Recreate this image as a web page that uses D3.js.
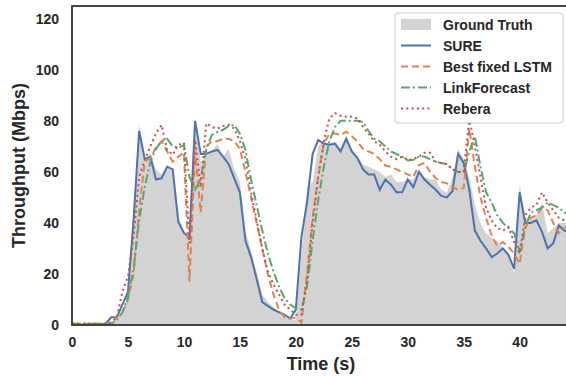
<!DOCTYPE html>
<html>
<head>
<style>
body { margin: 0; background: #fff; }
text { font-family: "Liberation Sans", Arial, sans-serif; font-weight: bold; fill: #262626; }
</style>
</head>
<body>
<svg id="chart" width="566" height="376"></svg>
<script src="https://d3js.org/d3.v7.min.js"></script>
<script>
const times = [
  0,0.5,1,1.5,2,2.5,3,3.5,4,4.5, 5,5.5,6,6.5,7,7.5,8,8.5,9,9.5,
  10,10.5,11,11.5,12,12.5,13,13.5,14,14.5, 15,15.5,16,16.5,17,17.5,18,18.5,19,19.5,
  20,20.5,21,21.5,22,22.5,23,23.5,24,24.5, 25,25.5,26,26.5,27,27.5,28,28.5,29,29.5,
  30,30.5,31,31.5,32,32.5,33,33.5,34,34.5, 35,35.5,36,36.5,37,37.5,38,38.5,39,39.5,
  40,40.5,41,41.5,42,42.5,43,43.5,44,44.5
];
const groundTruth = [
  0.5,0.5,0.5,0.5,0.5,0.5,0.5,1,2,5, 12,45,79,65,67,61,59,61,61,42,
  37,34,79,64,66,68,71,66,69,61, 56,37,29,21,12,9,7,5,3.5,2,
  2,28,54,56,70,72,71,72,69,74, 69,66,63,62,61,60,58,59,56,56,
  57,57,61,58,57,57,53,52,58,69, 65,58,47,40,36,34,33,30,27,20,
  55,42,41,43,48,36,38,40,40,40
];
const sure = [
  0,0,0,0,0,0,0.5,3,3,8, 13,41,76,65,66,57,57.5,62,61,40.5,
  36,34.5,80,67,67,68,68.6,66,63,57.5, 52,33,26.6,18,9,7.5,6,5,4,2.5,
  6,34.5,48,67,72.5,71,70.6,71,68,73, 68,65.5,61,59,59,53,57,55,52,52,
  57,54,60,57,55,53,50.6,50,52.5,67, 63.5,53,37,33,30,26.6,28,30,27.5,22,
  52,40,40,41,36.5,30,32,39,37,36
];
const bestLstm = [
  0.5,0.5,0.5,0.5,0.5,0.5,0.5,0.5,3,5, 10,20,45,64,65.5,69.5,72,68,64,66,
  67.5,17,68,44,70,72,72,73,73,72, 69,60,50,40,30,20,12,6,3,2.5,
  3,1,20,42,58,71,75,75,74.5,75.7, 74,72,69,68,67,65,62.5,62,61,60,
  59,58,62.7,63.5,60,57.6,56,55.5,54,53, 53.7,77,62,50,42,35,31,32.5,30.6,28,
  24,38,42,43,46,45,40,36,38,39
];
const linkForecast = [
  0.5,0.5,0.5,0.5,0.5,0.5,0.5,0.5,2,5, 11,22,41,54,64,69,72,73,70,69.5,
  70.5,58,53,57,69,74.5,75.7,76.5,78,78.4, 75,68.6,57,47,37,28,21,15,10.5,8,
  6.5,6,15,33,49,62,72,77.6,80,80, 80,80,79.6,76,73,72,70,68,67,66,
  64.5,64.7,66,66,65,64,63.5,63,61,60, 60,68,74,62,52,48,43,40,38,36,
  29,38.4,44,45,46,48,47,46,44,44
];
const rebera = [
  0.5,0.5,0.5,0.5,0.5,0.5,0.5,1,3,13, 19,34.5,58,64.7,70,75,78.4,68.6,66.7,70.6,
  71.4,32,72.5,54,79,77.6,77,78,78.4,77, 72,65,52,41,30,21,16,12,8,6,
  4,4,18,40,58,72,81,83,82,81.6, 81.6,81,77.6,75,72,70.6,68,66,65,66,
  64.7,65,66,67.5,67.5,64,63.5,63,61,60, 60,81,70,58,46,41,38,37,38.4,32.5,
  28,43,46,47,52,48,45,42,41,41
];
const xTicks = [0, 5, 10, 15, 20, 25, 30, 35, 40];
const yTicks = [0, 20, 40, 60, 80, 100, 120];
const lineNames = ["SURE", "Best fixed LSTM", "LinkForecast", "Rebera"];

const svg = d3.select("#chart");
const plotLeft = 72, plotRight = 570, plotTop = 6, plotBottom = 325;

const x = d3.scaleLinear().domain([0, 44.5]).range([plotLeft, plotRight]);
const y = d3.scaleLinear().domain([0, 125]).range([plotBottom, plotTop]);

svg.append("clipPath").attr("id", "plot-clip")
  .append("rect").attr("x", plotLeft).attr("y", plotTop)
  .attr("width", plotRight - plotLeft).attr("height", plotBottom - plotTop);

const plot = svg.append("g").attr("clip-path", "url(#plot-clip)");

// ground truth area
plot.append("path")
  .datum(times)
  .attr("d", d3.area().x(t => x(t)).y0(y(0)).y1((t, i) => y(groundTruth[i])))
  .style("fill", "#d3d3d3");

const series = [
  {name: lineNames[0], values: sure, color: "#4c72b0", dash: null},
  {name: lineNames[1], values: bestLstm, color: "#dd8452", dash: "7,4"},
  {name: lineNames[2], values: linkForecast, color: "#55a868", dash: "9,3,2,3"},
  {name: lineNames[3], values: rebera, color: "#c44e52", dash: "2,3.3"}
];

const line = d3.line().x(d => x(d[0])).y(d => y(d[1]));

series.forEach(s => {
  plot.append("path")
    .datum(times.map((t, i) => [t, s.values[i]]))
    .attr("d", line)
    .style("fill", "none")
    .style("stroke", s.color)
    .style("stroke-width", 2)
    .style("stroke-dasharray", s.dash);
});

// frame
svg.append("rect")
  .attr("x", plotLeft).attr("y", plotTop)
  .attr("width", plotRight - plotLeft).attr("height", plotBottom - plotTop)
  .style("fill", "none").style("stroke", "#333").style("stroke-width", 1.8);

// axes (labels only, no tick marks)
const xAxis = svg.append("g").attr("transform", `translate(0,${plotBottom})`)
  .call(d3.axisBottom(x).tickValues(xTicks).tickSize(0).tickPadding(12));
const yAxis = svg.append("g").attr("transform", `translate(${plotLeft},0)`)
  .call(d3.axisLeft(y).tickValues(yTicks).tickSize(0).tickPadding(13));
[xAxis, yAxis].forEach(a => {
  a.select(".domain").remove();
  a.selectAll("text").style("font-size", "14px").style("font-family", "'Liberation Sans', Arial, sans-serif")
    .style("font-weight", "bold").attr("fill", "#262626");
});

svg.append("text")
  .attr("x", (plotLeft + plotRight) / 2).attr("y", 370)
  .attr("text-anchor", "middle")
  .style("font-size", "18px")
  .text("Time (s)");

svg.append("text")
  .attr("transform", `translate(25,${(plotTop + plotBottom) / 2}) rotate(-90)`)
  .attr("text-anchor", "middle")
  .style("font-size", "18px")
  .text("Throughput (Mbps)");

// legend
const legend = svg.append("g");
legend.append("rect")
  .attr("x", 395).attr("y", 13).attr("width", 168).attr("height", 110)
  .attr("rx", 3)
  .style("fill", "#fff").style("fill-opacity", 0.85)
  .style("stroke", "#cccccc").style("stroke-width", 1);

const rowY = [25, 45.5, 66.5, 87.5, 108.5];
legend.append("rect")
  .attr("x", 401).attr("y", rowY[0] - 6).attr("width", 30).attr("height", 11)
  .style("fill", "#d3d3d3");
legend.append("text").attr("x", 443).attr("y", rowY[0] + 5).style("font-size", "14px").text("Ground Truth");

series.forEach((s, i) => {
  const yy = rowY[i + 1];
  legend.append("line")
    .attr("x1", 401).attr("x2", 431).attr("y1", yy).attr("y2", yy)
    .style("stroke", s.color).style("stroke-width", 2)
    .style("stroke-dasharray", s.dash);
  legend.append("text").attr("x", 443).attr("y", yy + 5).style("font-size", "14px").text(s.name);
});
</script>
</body>
</html>
